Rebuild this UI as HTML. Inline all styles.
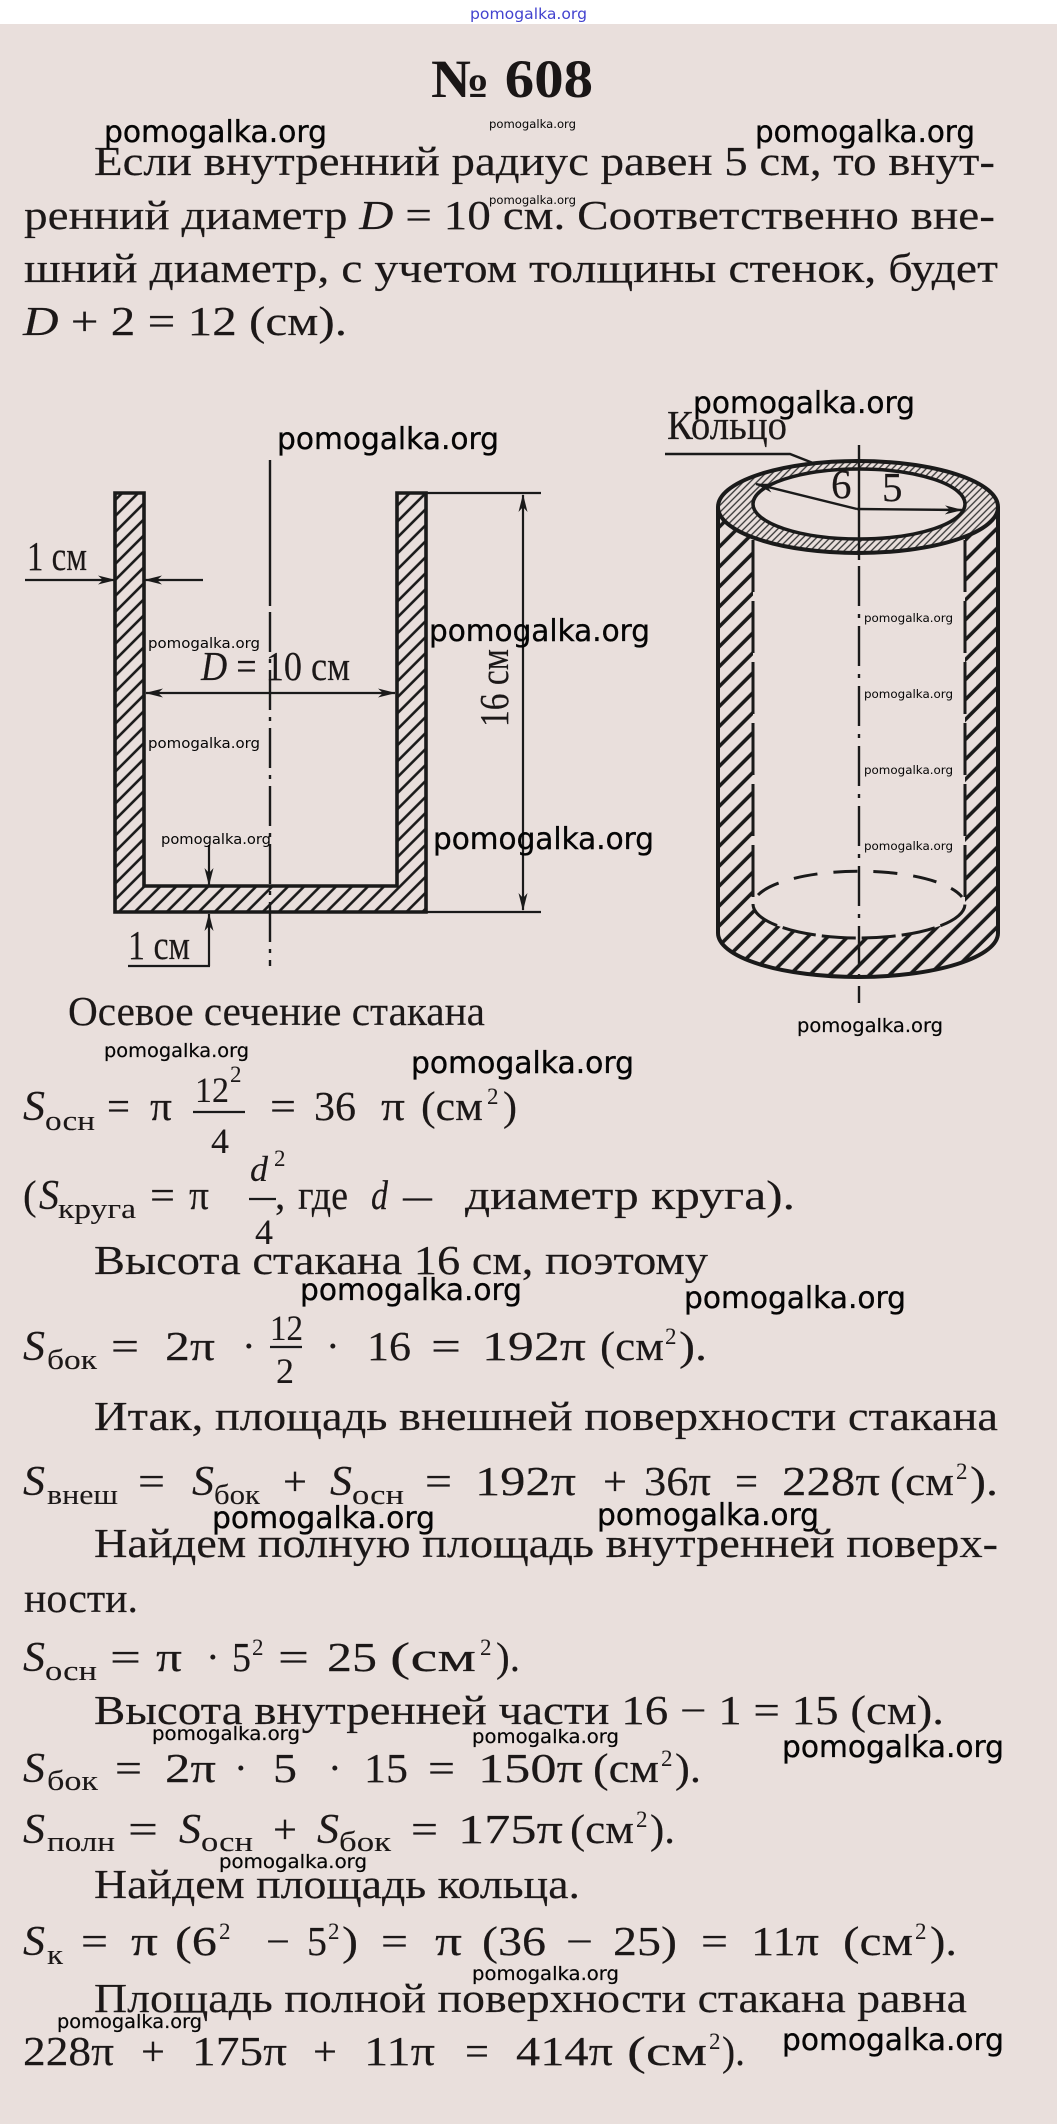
<!DOCTYPE html>
<html>
<head>
<meta charset="utf-8">
<style>
  html, body { margin: 0; padding: 0; background: #e9dfdc; }
  svg { display: block; }
  .t { font-family: "Liberation Serif", serif; font-size: 41px; fill: #1c1818; stroke: #1c1818; stroke-width: 0.15; }
  .i { font-style: italic; }
  .S { font-family: "Liberation Serif", serif; font-style: italic; font-size: 42px; fill: #1c1818; stroke: #1c1818; stroke-width: 0.15; }
  .sb { font-family: "Liberation Serif", serif; font-size: 28px; fill: #1c1818; stroke: #1c1818; stroke-width: 0.1; }
  .sp { font-family: "Liberation Serif", serif; font-size: 23px; fill: #1c1818; }
  .fr { font-family: "Liberation Serif", serif; font-size: 36px; fill: #1c1818; stroke: #1c1818; stroke-width: 0.1; }
  .wb { font-family: "DejaVu Sans", "Liberation Sans", sans-serif; font-size: 30px; fill: #050505; stroke: #050505; stroke-width: 0.35; }
  .wm { font-family: "DejaVu Sans", "Liberation Sans", sans-serif; font-size: 19px; fill: #050505; stroke: #050505; stroke-width: 0.2; }
  .ws { font-family: "DejaVu Sans", "Liberation Sans", sans-serif; font-size: 14.5px; fill: #050505; }
  .wt { font-family: "DejaVu Sans", "Liberation Sans", sans-serif; font-size: 11.5px; fill: #050505; }
  .ln { stroke: #1a1a1a; fill: none; }
</style>
</head>
<body>
<svg width="1057" height="2124" viewBox="0 0 1057 2124" xmlns="http://www.w3.org/2000/svg">
  <defs>
    <marker id="a" viewBox="0 0 18 10" refX="17" refY="5" markerWidth="18" markerHeight="10" markerUnits="userSpaceOnUse" orient="auto-start-reverse">
      <path d="M0,0.5 L18,5 L0,9.5 L5,5 Z" fill="#1a1a1a"/>
    </marker>
    <pattern id="hL" patternUnits="userSpaceOnUse" width="11.3" height="11.3" patternTransform="rotate(45)">
      <line x1="5.65" y1="-1" x2="5.65" y2="12.3" stroke="#1a1a1a" stroke-width="2.6"/>
    </pattern>
    <pattern id="hC" patternUnits="userSpaceOnUse" width="14.1" height="14.1" patternTransform="rotate(45)">
      <line x1="7" y1="-1" x2="7" y2="15.1" stroke="#1a1a1a" stroke-width="3.6"/>
    </pattern>
    <pattern id="hR" patternUnits="userSpaceOnUse" width="4.8" height="4.8" patternTransform="rotate(45)">
      <line x1="2.4" y1="-1" x2="2.4" y2="5.8" stroke="#333" stroke-width="1.3"/>
    </pattern>
  </defs>

  <rect x="0" y="0" width="1057" height="2124" fill="#e9dfdc"/>
  <rect x="0" y="0" width="1057" height="24" fill="#ffffff"/>
  <text x="470" y="19" font-family="DejaVu Sans, Liberation Sans, sans-serif" font-size="15" fill="#4343cf" textLength="117" lengthAdjust="spacingAndGlyphs">pomogalka.org</text>

  <!-- title -->
  <text x="431" y="97" font-family="Liberation Serif, serif" font-weight="bold" font-size="54" fill="#1a1616" textLength="162" lengthAdjust="spacingAndGlyphs">№ 608</text>
  <text class="wt" x="489" y="128" textLength="87" lengthAdjust="spacingAndGlyphs">pomogalka.org</text>

  <!-- paragraph -->
  <text class="t" x="94" y="175" textLength="901" lengthAdjust="spacingAndGlyphs">Если внутренний радиус равен  5 см, то внут-</text>
  <text class="t" x="24" y="229" textLength="971" lengthAdjust="spacingAndGlyphs">ренний диаметр <tspan font-style="italic">D</tspan> = 10 см. Соответственно вне-</text>
  <text class="t" x="24" y="282" textLength="974" lengthAdjust="spacingAndGlyphs">шний диаметр, с учетом толщины стенок, будет</text>
  <text class="t" x="23" y="335" textLength="324" lengthAdjust="spacingAndGlyphs"><tspan font-style="italic">D</tspan> + 2 = 12 (см).</text>
  <text class="wt" x="489" y="204" textLength="87" lengthAdjust="spacingAndGlyphs">pomogalka.org</text>
  <text class="wb" x="104" y="142" textLength="223" lengthAdjust="spacingAndGlyphs">pomogalka.org</text>
  <text class="wb" x="755" y="142" textLength="220" lengthAdjust="spacingAndGlyphs">pomogalka.org</text>

  <!-- ============ LEFT DIAGRAM ============ -->
  <path d="M115,493 L115,912 L426,912 L426,493 L397,493 L397,886 L144,886 L144,493 Z" fill="url(#hL)" stroke="#1a1a1a" stroke-width="3.6" stroke-linejoin="miter"/>
  <line class="ln" x1="270" y1="460" x2="270" y2="606" stroke-width="2.4"/>
  <line class="ln" x1="270" y1="612" x2="270" y2="966" stroke-width="2.4" stroke-dasharray="40 7 4 7"/>
  <text class="t" x="27" y="570" font-size="33" textLength="60" lengthAdjust="spacingAndGlyphs">1 см</text>
  <line class="ln" x1="25" y1="580" x2="115" y2="580" stroke-width="2.2" marker-end="url(#a)"/>
  <line class="ln" x1="203" y1="580" x2="145" y2="580" stroke-width="2.2" marker-end="url(#a)"/>
  <text class="t" x="201" y="680" font-size="36" textLength="149" lengthAdjust="spacingAndGlyphs"><tspan font-style="italic">D</tspan> = 10 см</text>
  <line class="ln" x1="146" y1="693" x2="395" y2="693" stroke-width="2.2" marker-start="url(#a)" marker-end="url(#a)"/>
  <line class="ln" x1="426" y1="493" x2="541" y2="493" stroke-width="2.2"/>
  <line class="ln" x1="426" y1="912" x2="541" y2="912" stroke-width="2.2"/>
  <line class="ln" x1="523" y1="495" x2="523" y2="910" stroke-width="2.2" marker-start="url(#a)" marker-end="url(#a)"/>
  <text class="t" font-size="36" text-anchor="middle" transform="translate(508,688) rotate(-90)" textLength="78" lengthAdjust="spacingAndGlyphs">16 см</text>
  <line class="ln" x1="209" y1="845" x2="209" y2="885" stroke-width="2.2" marker-end="url(#a)"/>
  <line class="ln" x1="209" y1="966" x2="209" y2="914" stroke-width="2.2" marker-end="url(#a)"/>
  <line class="ln" x1="128" y1="966" x2="210" y2="966" stroke-width="2.2"/>
  <text class="t" x="128" y="959" font-size="33" textLength="62" lengthAdjust="spacingAndGlyphs">1 см</text>
  <text class="wb" x="277" y="449" textLength="222" lengthAdjust="spacingAndGlyphs">pomogalka.org</text>
  <text class="wb" x="429" y="641" textLength="221" lengthAdjust="spacingAndGlyphs">pomogalka.org</text>
  <text class="wb" x="433" y="849" textLength="221" lengthAdjust="spacingAndGlyphs">pomogalka.org</text>
  <text class="ws" x="148" y="648" textLength="112" lengthAdjust="spacingAndGlyphs">pomogalka.org</text>
  <text class="ws" x="148" y="748" textLength="112" lengthAdjust="spacingAndGlyphs">pomogalka.org</text>
  <text class="ws" x="161" y="844" textLength="110" lengthAdjust="spacingAndGlyphs">pomogalka.org</text>

  <text class="t" x="68" y="1025" textLength="417" lengthAdjust="spacingAndGlyphs">Осевое сечение стакана</text>

  <!-- ============ CYLINDER ============ -->
  <path fill-rule="evenodd" fill="url(#hC)" d="M718,507 L718,933 A140,44 0 0 0 998,933 L998,507 Z M753,504 L753,904 A106,34 0 0 0 965,904 L965,504 Z"/>
  <line class="ln" x1="718" y1="507" x2="718" y2="933" stroke-width="4"/>
  <line class="ln" x1="998" y1="507" x2="998" y2="933" stroke-width="4"/>
  <path class="ln" d="M718,933 A140,44 0 0 0 998,933" stroke-width="4"/>
  <path class="ln" d="M753,904 A106,34 0 0 0 965,904" stroke-width="3" stroke-dasharray="34 6"/>
  <path class="ln" d="M758,895 A106,34 0 0 1 962,897" stroke-width="3" stroke-dasharray="24 16"/>
  <line class="ln" x1="753" y1="540" x2="753" y2="900" stroke-width="3" stroke-dasharray="52 9"/>
  <line class="ln" x1="965" y1="540" x2="965" y2="900" stroke-width="3" stroke-dasharray="52 9"/>
  <ellipse cx="858" cy="507" rx="140" ry="46" fill="#e9dfdc"/>
  <ellipse cx="858" cy="507" rx="140" ry="46" fill="url(#hR)" stroke="#1a1a1a" stroke-width="4"/>
  <ellipse cx="859" cy="504" rx="106" ry="35" fill="#e9dfdc" stroke="#1a1a1a" stroke-width="3.5"/>
  <line class="ln" x1="859" y1="445" x2="859" y2="560" stroke-width="2.4"/>
  <line class="ln" x1="859" y1="566" x2="859" y2="1003" stroke-width="2.4" stroke-dasharray="40 8 4 8"/>
  <line class="ln" x1="857" y1="509" x2="756" y2="484" stroke-width="2.4" marker-end="url(#a)"/>
  <line class="ln" x1="857" y1="509" x2="962" y2="510" stroke-width="2.4" marker-end="url(#a)"/>
  <text class="t" x="831" y="498" font-size="28">6</text>
  <text class="t" x="882" y="501" font-size="28">5</text>
  <text class="t" x="667" y="439" font-size="34" textLength="120" lengthAdjust="spacingAndGlyphs">Кольцо</text>
  <polyline class="ln" points="665,454 790,454 813,463" stroke-width="2.4"/>
  <text class="wb" x="693" y="413" textLength="222" lengthAdjust="spacingAndGlyphs">pomogalka.org</text>
  <text class="wt" x="864" y="622" textLength="89" lengthAdjust="spacingAndGlyphs">pomogalka.org</text>
  <text class="wt" x="864" y="698" textLength="89" lengthAdjust="spacingAndGlyphs">pomogalka.org</text>
  <text class="wt" x="864" y="774" textLength="89" lengthAdjust="spacingAndGlyphs">pomogalka.org</text>
  <text class="wt" x="864" y="850" textLength="89" lengthAdjust="spacingAndGlyphs">pomogalka.org</text>
  <text class="wm" x="797" y="1032" textLength="146" lengthAdjust="spacingAndGlyphs">pomogalka.org</text>

  <!-- ============ FORMULAS ============ -->
  <text class="wm" x="104" y="1057" textLength="145" lengthAdjust="spacingAndGlyphs">pomogalka.org</text>
  <text class="wb" x="411" y="1073" textLength="223" lengthAdjust="spacingAndGlyphs">pomogalka.org</text>

  <!-- F1 -->
  <text class="S" x="23" y="1120" textLength="22" lengthAdjust="spacingAndGlyphs">S</text>
  <text class="sb" x="45" y="1130" textLength="50" lengthAdjust="spacingAndGlyphs">осн</text>
  <text class="t" x="107" y="1120" textLength="23" lengthAdjust="spacingAndGlyphs">=</text>
  <text class="t" x="150" y="1120" textLength="22" lengthAdjust="spacingAndGlyphs">π</text>
  <text class="fr" x="195" y="1102" textLength="34" lengthAdjust="spacingAndGlyphs">12</text>
  <text class="sp" x="230" y="1082" font-size="20">2</text>
  <line class="ln" x1="193" y1="1112" x2="245" y2="1112" stroke-width="2.2"/>
  <text class="fr" x="211" y="1153">4</text>
  <text class="t" x="270" y="1120" textLength="26" lengthAdjust="spacingAndGlyphs">=</text>
  <text class="t" x="314" y="1120" textLength="42" lengthAdjust="spacingAndGlyphs">36</text>
  <text class="t" x="381" y="1120" textLength="24" lengthAdjust="spacingAndGlyphs">π</text>
  <text class="t" x="421" y="1120" textLength="62" lengthAdjust="spacingAndGlyphs">(см</text>
  <text class="sp" x="487" y="1104">2</text>
  <text class="t" x="503" y="1120" textLength="14" lengthAdjust="spacingAndGlyphs">)</text>

  <!-- F2 -->
  <text class="t" x="23" y="1209">(</text>
  <text class="S" x="39" y="1209" textLength="20" lengthAdjust="spacingAndGlyphs">S</text>
  <text class="sb" x="58" y="1218" textLength="78" lengthAdjust="spacingAndGlyphs">круга</text>
  <text class="t" x="150" y="1209" textLength="25" lengthAdjust="spacingAndGlyphs">=</text>
  <text class="t" x="189" y="1209" textLength="20" lengthAdjust="spacingAndGlyphs">π</text>
  <text class="fr" x="250" y="1181" font-style="italic">d</text>
  <text class="sp" x="274" y="1166" font-size="20">2</text>
  <line class="ln" x1="249" y1="1199" x2="276" y2="1199" stroke-width="2.2"/>
  <text class="fr" x="255" y="1244">4</text>
  <text class="t" x="275" y="1209">,</text>
  <text class="t" x="298" y="1209" textLength="50" lengthAdjust="spacingAndGlyphs">где</text>
  <text class="t" x="371" y="1209" font-style="italic" textLength="17" lengthAdjust="spacingAndGlyphs">d</text>
  <text class="t" x="403" y="1209" textLength="29" lengthAdjust="spacingAndGlyphs">—</text>
  <text class="t" x="465" y="1209" textLength="330" lengthAdjust="spacingAndGlyphs">диаметр круга).</text>

  <text class="t" x="94" y="1274" textLength="614" lengthAdjust="spacingAndGlyphs">Высота стакана 16 см, поэтому</text>
  <text class="wb" x="300" y="1300" textLength="222" lengthAdjust="spacingAndGlyphs">pomogalka.org</text>
  <text class="wb" x="684" y="1308" textLength="222" lengthAdjust="spacingAndGlyphs">pomogalka.org</text>

  <!-- F3 -->
  <text class="S" x="23" y="1360" textLength="22" lengthAdjust="spacingAndGlyphs">S</text>
  <text class="sb" x="47" y="1369" textLength="50" lengthAdjust="spacingAndGlyphs">бок</text>
  <text class="t" x="111" y="1360" textLength="28" lengthAdjust="spacingAndGlyphs">=</text>
  <text class="t" x="165" y="1360" textLength="50" lengthAdjust="spacingAndGlyphs">2π</text>
  <text class="t" x="242" y="1360">·</text>
  <text class="fr" x="270" y="1340" textLength="33" lengthAdjust="spacingAndGlyphs">12</text>
  <line class="ln" x1="270" y1="1347" x2="302" y2="1347" stroke-width="2.2"/>
  <text class="fr" x="276" y="1383">2</text>
  <text class="t" x="326" y="1360">·</text>
  <text class="t" x="367" y="1360" textLength="44" lengthAdjust="spacingAndGlyphs">16</text>
  <text class="t" x="431" y="1360" textLength="30" lengthAdjust="spacingAndGlyphs">=</text>
  <text class="t" x="482" y="1360" textLength="104" lengthAdjust="spacingAndGlyphs">192π</text>
  <text class="t" x="600" y="1360" textLength="64" lengthAdjust="spacingAndGlyphs">(см</text>
  <text class="sp" x="665" y="1344">2</text>
  <text class="t" x="679" y="1360" textLength="28" lengthAdjust="spacingAndGlyphs">).</text>

  <text class="t" x="94" y="1430" textLength="904" lengthAdjust="spacingAndGlyphs">Итак, площадь внешней поверхности стакана</text>

  <!-- F4 -->
  <text class="S" x="23" y="1495" textLength="22" lengthAdjust="spacingAndGlyphs">S</text>
  <text class="sb" x="47" y="1504" textLength="71" lengthAdjust="spacingAndGlyphs">внеш</text>
  <text class="t" x="138" y="1495" textLength="27" lengthAdjust="spacingAndGlyphs">=</text>
  <text class="S" x="192" y="1495" textLength="22" lengthAdjust="spacingAndGlyphs">S</text>
  <text class="sb" x="214" y="1504" textLength="46" lengthAdjust="spacingAndGlyphs">бок</text>
  <text class="t" x="283" y="1495" textLength="24" lengthAdjust="spacingAndGlyphs">+</text>
  <text class="S" x="330" y="1495" textLength="22" lengthAdjust="spacingAndGlyphs">S</text>
  <text class="sb" x="352" y="1504" textLength="52" lengthAdjust="spacingAndGlyphs">осн</text>
  <text class="t" x="425" y="1495" textLength="27" lengthAdjust="spacingAndGlyphs">=</text>
  <text class="t" x="475" y="1495" textLength="101" lengthAdjust="spacingAndGlyphs">192π</text>
  <text class="t" x="603" y="1495" textLength="24" lengthAdjust="spacingAndGlyphs">+</text>
  <text class="t" x="644" y="1495" textLength="67" lengthAdjust="spacingAndGlyphs">36π</text>
  <text class="t" x="735" y="1495" textLength="23" lengthAdjust="spacingAndGlyphs">=</text>
  <text class="t" x="782" y="1495" textLength="98" lengthAdjust="spacingAndGlyphs">228π</text>
  <text class="t" x="890" y="1495" textLength="64" lengthAdjust="spacingAndGlyphs">(см</text>
  <text class="sp" x="956" y="1479">2</text>
  <text class="t" x="970" y="1495" textLength="28" lengthAdjust="spacingAndGlyphs">).</text>
  <text class="wb" x="212" y="1528" textLength="223" lengthAdjust="spacingAndGlyphs">pomogalka.org</text>
  <text class="wb" x="597" y="1525" textLength="222" lengthAdjust="spacingAndGlyphs">pomogalka.org</text>

  <text class="t" x="94" y="1557" textLength="904" lengthAdjust="spacingAndGlyphs">Найдем полную площадь внутренней поверх-</text>
  <text class="t" x="24" y="1612" textLength="114" lengthAdjust="spacingAndGlyphs">ности.</text>

  <!-- F5 -->
  <text class="S" x="23" y="1671" textLength="22" lengthAdjust="spacingAndGlyphs">S</text>
  <text class="sb" x="45" y="1680" textLength="52" lengthAdjust="spacingAndGlyphs">осн</text>
  <text class="t" x="110" y="1671" textLength="31" lengthAdjust="spacingAndGlyphs">=</text>
  <text class="t" x="156" y="1671" textLength="26" lengthAdjust="spacingAndGlyphs">π</text>
  <text class="t" x="206" y="1671">·</text>
  <text class="t" x="232" y="1671" textLength="19" lengthAdjust="spacingAndGlyphs">5</text>
  <text class="sp" x="252" y="1655">2</text>
  <text class="t" x="278" y="1671" textLength="31" lengthAdjust="spacingAndGlyphs">=</text>
  <text class="t" x="327" y="1671" textLength="50" lengthAdjust="spacingAndGlyphs">25</text>
  <text class="t" x="390" y="1671" textLength="86" lengthAdjust="spacingAndGlyphs">(см</text>
  <text class="sp" x="480" y="1655">2</text>
  <text class="t" x="496" y="1671" textLength="24" lengthAdjust="spacingAndGlyphs">).</text>

  <text class="t" x="94" y="1724" textLength="850" lengthAdjust="spacingAndGlyphs">Высота внутренней части 16 − 1 = 15 (см).</text>
  <text class="wm" x="152" y="1740" textLength="148" lengthAdjust="spacingAndGlyphs">pomogalka.org</text>
  <text class="wm" x="472" y="1743" textLength="147" lengthAdjust="spacingAndGlyphs">pomogalka.org</text>
  <text class="wb" x="782" y="1757" textLength="222" lengthAdjust="spacingAndGlyphs">pomogalka.org</text>

  <!-- F6 -->
  <text class="S" x="23" y="1782" textLength="22" lengthAdjust="spacingAndGlyphs">S</text>
  <text class="sb" x="47" y="1790" textLength="51" lengthAdjust="spacingAndGlyphs">бок</text>
  <text class="t" x="115" y="1782" textLength="27" lengthAdjust="spacingAndGlyphs">=</text>
  <text class="t" x="165" y="1782" textLength="51" lengthAdjust="spacingAndGlyphs">2π</text>
  <text class="t" x="234" y="1782">·</text>
  <text class="t" x="273" y="1782" textLength="24" lengthAdjust="spacingAndGlyphs">5</text>
  <text class="t" x="328" y="1782">·</text>
  <text class="t" x="364" y="1782" textLength="44" lengthAdjust="spacingAndGlyphs">15</text>
  <text class="t" x="428" y="1782" textLength="27" lengthAdjust="spacingAndGlyphs">=</text>
  <text class="t" x="478" y="1782" textLength="105" lengthAdjust="spacingAndGlyphs">150π</text>
  <text class="t" x="593" y="1782" textLength="66" lengthAdjust="spacingAndGlyphs">(см</text>
  <text class="sp" x="661" y="1766">2</text>
  <text class="t" x="675" y="1782" textLength="26" lengthAdjust="spacingAndGlyphs">).</text>

  <!-- F7 -->
  <text class="S" x="23" y="1843" textLength="22" lengthAdjust="spacingAndGlyphs">S</text>
  <text class="sb" x="47" y="1851" textLength="68" lengthAdjust="spacingAndGlyphs">полн</text>
  <text class="t" x="128" y="1843" textLength="30" lengthAdjust="spacingAndGlyphs">=</text>
  <text class="S" x="179" y="1843" textLength="22" lengthAdjust="spacingAndGlyphs">S</text>
  <text class="sb" x="201" y="1851" textLength="52" lengthAdjust="spacingAndGlyphs">осн</text>
  <text class="t" x="273" y="1843" textLength="24" lengthAdjust="spacingAndGlyphs">+</text>
  <text class="S" x="317" y="1843" textLength="22" lengthAdjust="spacingAndGlyphs">S</text>
  <text class="sb" x="339" y="1851" textLength="52" lengthAdjust="spacingAndGlyphs">бок</text>
  <text class="t" x="411" y="1843" textLength="27" lengthAdjust="spacingAndGlyphs">=</text>
  <text class="t" x="458" y="1843" textLength="105" lengthAdjust="spacingAndGlyphs">175π</text>
  <text class="t" x="570" y="1843" textLength="64" lengthAdjust="spacingAndGlyphs">(см</text>
  <text class="sp" x="636" y="1827">2</text>
  <text class="t" x="650" y="1843" textLength="25" lengthAdjust="spacingAndGlyphs">).</text>
  <text class="wm" x="219" y="1868" textLength="148" lengthAdjust="spacingAndGlyphs">pomogalka.org</text>

  <text class="t" x="94" y="1898" textLength="486" lengthAdjust="spacingAndGlyphs">Найдем площадь кольца.</text>

  <!-- F8 -->
  <text class="S" x="23" y="1955" textLength="22" lengthAdjust="spacingAndGlyphs">S</text>
  <text class="sb" x="47" y="1964" textLength="16" lengthAdjust="spacingAndGlyphs">к</text>
  <text class="t" x="81" y="1955" textLength="27" lengthAdjust="spacingAndGlyphs">=</text>
  <text class="t" x="131" y="1955" textLength="27" lengthAdjust="spacingAndGlyphs">π</text>
  <text class="t" x="175" y="1955" textLength="42" lengthAdjust="spacingAndGlyphs">(6</text>
  <text class="sp" x="219" y="1939">2</text>
  <text class="t" x="266" y="1955" textLength="24" lengthAdjust="spacingAndGlyphs">−</text>
  <text class="t" x="307" y="1955" textLength="20" lengthAdjust="spacingAndGlyphs">5</text>
  <text class="sp" x="328" y="1939">2</text>
  <text class="t" x="342" y="1955" textLength="16" lengthAdjust="spacingAndGlyphs">)</text>
  <text class="t" x="381" y="1955" textLength="27" lengthAdjust="spacingAndGlyphs">=</text>
  <text class="t" x="435" y="1955" textLength="27" lengthAdjust="spacingAndGlyphs">π</text>
  <text class="t" x="482" y="1955" textLength="64" lengthAdjust="spacingAndGlyphs">(36</text>
  <text class="t" x="566" y="1955" textLength="27" lengthAdjust="spacingAndGlyphs">−</text>
  <text class="t" x="613" y="1955" textLength="64" lengthAdjust="spacingAndGlyphs">25)</text>
  <text class="t" x="701" y="1955" textLength="27" lengthAdjust="spacingAndGlyphs">=</text>
  <text class="t" x="751" y="1955" textLength="68" lengthAdjust="spacingAndGlyphs">11π</text>
  <text class="t" x="843" y="1955" textLength="70" lengthAdjust="spacingAndGlyphs">(см</text>
  <text class="sp" x="915" y="1939">2</text>
  <text class="t" x="930" y="1955" textLength="27" lengthAdjust="spacingAndGlyphs">).</text>
  <text class="wm" x="472" y="1980" textLength="147" lengthAdjust="spacingAndGlyphs">pomogalka.org</text>

  <text class="t" x="94" y="2012" textLength="873" lengthAdjust="spacingAndGlyphs">Площадь полной поверхности стакана равна</text>
  <text class="wm" x="57" y="2028" textLength="145" lengthAdjust="spacingAndGlyphs">pomogalka.org</text>

  <!-- F9 -->
  <text class="t" x="23" y="2065" textLength="91" lengthAdjust="spacingAndGlyphs">228π</text>
  <text class="t" x="141" y="2065" textLength="24" lengthAdjust="spacingAndGlyphs">+</text>
  <text class="t" x="192" y="2065" textLength="95" lengthAdjust="spacingAndGlyphs">175π</text>
  <text class="t" x="313" y="2065" textLength="24" lengthAdjust="spacingAndGlyphs">+</text>
  <text class="t" x="364" y="2065" textLength="71" lengthAdjust="spacingAndGlyphs">11π</text>
  <text class="t" x="465" y="2065" textLength="24" lengthAdjust="spacingAndGlyphs">=</text>
  <text class="t" x="516" y="2065" textLength="97" lengthAdjust="spacingAndGlyphs">414π</text>
  <text class="t" x="627" y="2065" textLength="80" lengthAdjust="spacingAndGlyphs">(см</text>
  <text class="sp" x="709" y="2049">2</text>
  <text class="t" x="722" y="2065" textLength="23" lengthAdjust="spacingAndGlyphs">).</text>
  <text class="wb" x="782" y="2050" textLength="222" lengthAdjust="spacingAndGlyphs">pomogalka.org</text>
</svg>
</body>
</html>
